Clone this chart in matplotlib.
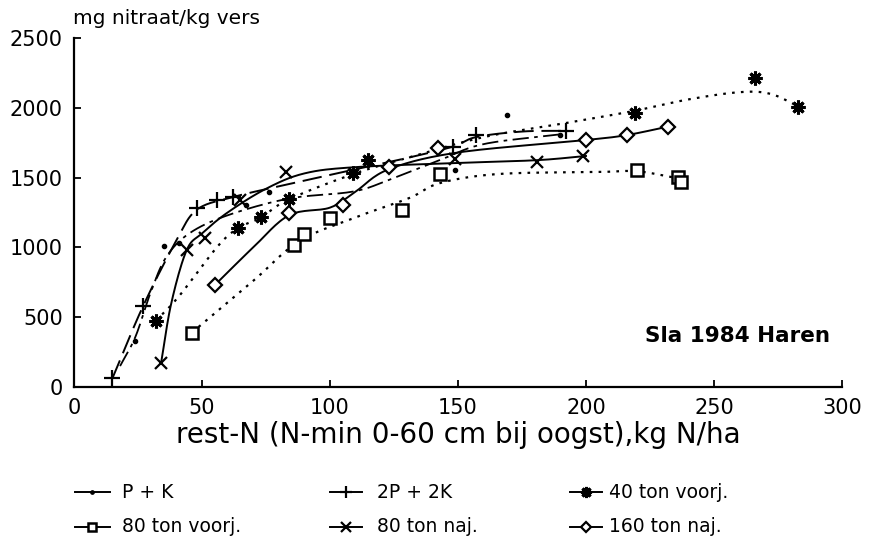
import numpy as np
import matplotlib
matplotlib.use("Agg")
import matplotlib.pyplot as plt
from matplotlib.lines import Line2D

plt.rcParams['font.family'] = ['DejaVu Sans']

# ---- data ----
labels = ["P + K", "2P + 2K", "40 ton voorj.", "80 ton voorj.", "80 ton naj.", "160 ton naj."]

# observed points (markers)
pk_x = [24, 35, 41, 67, 76, 149, 169, 190]
pk_y = [330, 1010, 1030, 1304, 1400, 1554, 1948, 1805]
p2_x = [15, 27, 48, 56, 62, 148, 157, 192]
p2_y = [62, 580, 1280, 1340, 1360, 1722, 1805, 1836]
t40v_x = [32, 64, 73, 84, 109, 115, 219, 266, 283]
t40v_y = [475, 1137, 1217, 1350, 1531, 1626, 1960, 2211, 2003]
t80v_x = [46, 86, 90, 100, 128, 143, 220, 236, 237]
t80v_y = [389, 1017, 1096, 1208, 1268, 1526, 1554, 1506, 1470]
t80n_x = [34, 44, 51, 65, 83, 149, 181, 199]
t80n_y = [170, 980, 1065, 1340, 1542, 1631, 1614, 1655]
t160n_x = [55, 84, 105, 123, 142, 200, 216, 232]
t160n_y = [730, 1250, 1304, 1578, 1710, 1769, 1805, 1865]

# fitted curves
pk_cx = [18, 24, 30, 36, 45, 60, 84, 109, 123, 143, 160, 190]
pk_cy = [150, 360, 680, 930, 1100, 1230, 1350, 1400, 1483, 1626, 1740, 1810]
p2_cx = [15, 27, 40, 48, 62, 83, 110, 130, 148, 157, 175, 192]
p2_cy = [62, 580, 1050, 1270, 1360, 1450, 1560, 1640, 1722, 1790, 1830, 1835]
t40v_cx = [32, 41, 56, 64, 73, 84, 109, 130, 160, 190, 218, 240, 260, 272, 283]
t40v_cy = [475, 650, 1005, 1137, 1215, 1345, 1525, 1640, 1790, 1884, 1975, 2060, 2112, 2100, 2010]
t80v_cx = [46, 70, 88, 110, 131, 143, 166, 205, 220, 236]
t80v_cy = [389, 760, 1045, 1215, 1354, 1461, 1526, 1540, 1545, 1495]
t80n_cx = [34, 38, 44, 50, 60, 75, 90, 110, 150, 181, 200]
t80n_cy = [170, 600, 980, 1100, 1250, 1420, 1530, 1575, 1605, 1625, 1655]
t160n_cx = [55, 70, 84, 100, 110, 123, 150, 200, 216, 232]
t160n_cy = [730, 1000, 1230, 1285, 1400, 1560, 1680, 1769, 1805, 1865]

xticks = [0, 50, 100, 150, 200, 250, 300]
yticks = [0, 500, 1000, 1500, 2000, 2500]


def smooth(xs, ys, n=16):
    p = np.column_stack([xs, ys]).astype(float)
    p = np.vstack([p[0] * 2 - p[1], p, p[-1] * 2 - p[-2]])
    out = []
    t = np.linspace(0, 1, n, endpoint=False)[:, None]
    for i in range(1, len(p) - 2):
        p0, p1, p2, p3 = p[i - 1], p[i], p[i + 1], p[i + 2]
        seg = 0.5 * ((2 * p1) + (-p0 + p2) * t + (2 * p0 - 5 * p1 + 4 * p2 - p3) * t ** 2
                     + (-p0 + 3 * p1 - 3 * p2 + p3) * t ** 3)
        out.append(seg)
    out.append(p[-2][None, :])
    out = np.vstack(out)
    return out[:, 0], out[:, 1]


W, H = 870, 541
fig = plt.figure(figsize=(W / 100, H / 100), dpi=100)
ax = fig.add_axes([74 / W, 1 - 387 / H, 768 / W, 349 / H])

k = 'black'
series = [
    (pk_x, pk_y, pk_cx, pk_cy, dict(ls=(0, (9, 3, 2, 3)), lw=1.3), dict(marker='o', ms=3)),
    (p2_x, p2_y, p2_cx, p2_cy, dict(ls=(0, (10, 4)), lw=1.4), dict(marker='+', ms=11, mew=1.6)),
    (t40v_x, t40v_y, t40v_cx, t40v_cy, dict(ls=(0, (1.2, 2.8)), lw=1.6), dict(marker=(8, 2, 0), ms=10, mew=2.2)),
    (t80v_x, t80v_y, t80v_cx, t80v_cy, dict(ls=(0, (1.2, 2.8)), lw=1.6), dict(marker='s', ms=8, mfc='white', mew=1.8)),
    (t80n_x, t80n_y, t80n_cx, t80n_cy, dict(ls='-', lw=1.4), dict(marker='x', ms=9, mew=1.6)),
    (t160n_x, t160n_y, t160n_cx, t160n_cy, dict(ls='-', lw=1.4), dict(marker='D', ms=7, mfc='white', mew=1.6)),
]
for mx, my, cx, cy, lst, mst in series:
    sx, sy = smooth(cx, cy)
    ax.plot(sx, sy, color=k, **lst)
    ax.plot(mx, my, ls='none', color=k, mec=k, **mst)

ax.set_xlim(0, 300)
ax.set_ylim(0, 2500)
ax.set_xticks(xticks)
ax.set_yticks(yticks)
ax.tick_params(direction='in', length=5, width=1.3, labelsize=15, colors=k, pad=8)
for s in ['top', 'right']:
    ax.spines[s].set_visible(False)
for s in ['left', 'bottom']:
    ax.spines[s].set_linewidth(1.6)

ax.set_xlabel("rest-N (N-min 0-60 cm bij oogst),kg N/ha", fontsize=20, labelpad=2)
fig.text(73 / W, 1 - 18 / H, "mg nitraat/kg vers", fontsize=14.5, ha='left', va='center')
ax.text(830 / W, 1 - 336 / H, "Sla 1984 Haren", transform=fig.transFigure, fontsize=15.5,
        fontweight='bold', ha='right', va='center')

# legend drawn manually: three columns, two rows
col_handle = [(75, 110), (330, 362), (570, 602)]
col_text = [122, 377, 609]
row_y = [492, 527]
for i, (_, _, _, _, lst, mst) in enumerate(series):
    r, c = divmod(i, 3)
    x0, x1 = col_handle[c]
    yy = 1 - row_y[r] / H
    fig.add_artist(Line2D([x0 / W, x1 / W], [yy, yy], transform=fig.transFigure,
                          color=k, lw=1.4))
    m = dict(mst)
    m['ms'] = m['ms'] * 0.8
    fig.add_artist(Line2D([(x0 + x1) / 2 / W], [yy], transform=fig.transFigure,
                          ls='none', color=k, mec=k, **m))
    fig.text(col_text[c] / W, yy, labels[i], fontsize=13.5, ha='left', va='center')

fig.savefig("out.png", dpi=100)
